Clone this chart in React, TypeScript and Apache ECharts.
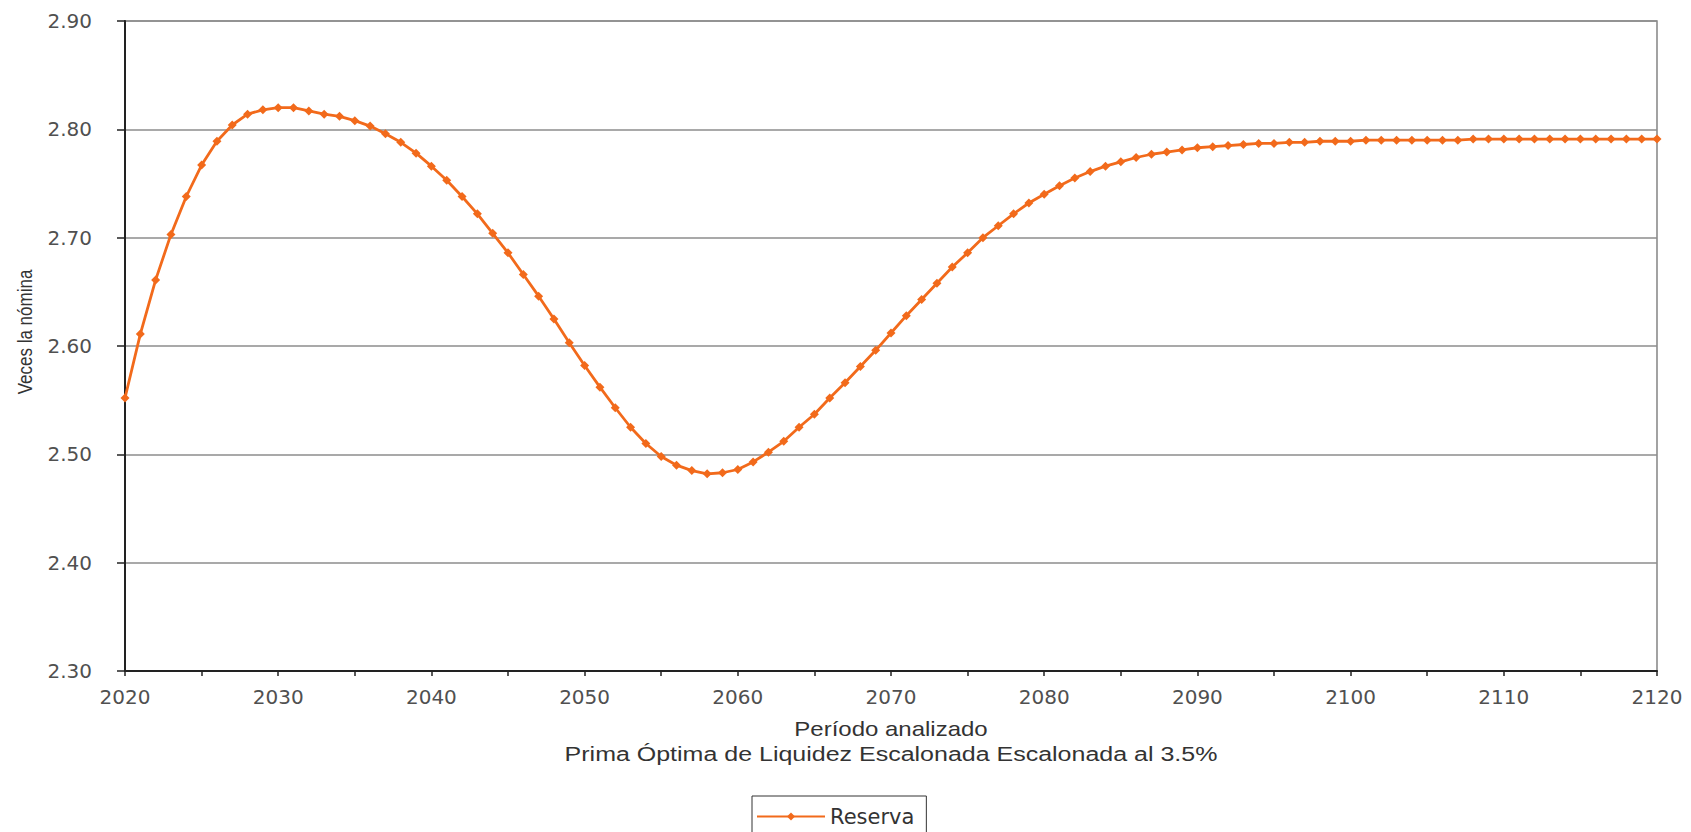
import React, { useEffect, useRef } from "react";
import * as echarts from "echarts";

const FIRST_YEAR = 2020;
const reserva: number[] = [
  2.552, 2.611, 2.661, 2.703, 2.738, 2.767, 2.789, 2.804, 2.814, 2.818,
  2.820, 2.820, 2.817, 2.814, 2.812, 2.808, 2.803, 2.796, 2.788, 2.778,
  2.766, 2.753, 2.738, 2.722, 2.704, 2.686, 2.666, 2.646, 2.625, 2.603,
  2.582, 2.562, 2.543, 2.525, 2.510, 2.498, 2.490, 2.485, 2.482, 2.483,
  2.486, 2.493, 2.502, 2.512, 2.525, 2.537, 2.552, 2.566, 2.581, 2.596,
  2.612, 2.628, 2.643, 2.658, 2.673, 2.686, 2.700, 2.711, 2.722, 2.732,
  2.740, 2.748, 2.755, 2.761, 2.766, 2.770, 2.774, 2.777, 2.779, 2.781,
  2.783, 2.784, 2.785, 2.786, 2.787, 2.787, 2.788, 2.788, 2.789, 2.789,
  2.789, 2.790, 2.790, 2.790, 2.790, 2.790, 2.790, 2.790, 2.791, 2.791,
  2.791, 2.791, 2.791, 2.791, 2.791, 2.791, 2.791, 2.791, 2.791, 2.791,
  2.791,
];
const years: number[] = reserva.map((_, i) => FIRST_YEAR + i);

const seriesName = "Reserva";
const yAxisTitle = "Veces la nómina";
const xAxisTitle = "Período analizado";
const subTitle = "Prima Óptima de Liquidez Escalonada Escalonada al 3.5%";

const ORANGE = "#F26A1B";
const GRID = "#8c8c8c";
const AXIS = "#222222";
const LABEL = "#505050";

export default function App() {
  const ref = useRef<HTMLDivElement>(null);
  useEffect(() => {
    if (!ref.current) return;
    const chart = echarts.init(ref.current, null, { renderer: "svg" });
    chart.setOption({
      animation: false,
      backgroundColor: "#ffffff",
      grid: {
        left: 125,
        right: 34,
        top: 21,
        bottom: 161,
        show: true,
        borderColor: GRID,
        borderWidth: 1.6,
        backgroundColor: "transparent",
      },
      xAxis: {
        type: "value",
        min: 2020,
        max: 2120,
        interval: 10,
        axisLine: { show: true, lineStyle: { color: AXIS, width: 2 } },
        axisTick: { show: true, length: 5, lineStyle: { color: AXIS, width: 1.5 } },
        minorTick: { show: true, splitNumber: 2, length: 5, lineStyle: { color: AXIS, width: 1.5 } },
        splitLine: { show: false },
        axisLabel: {
          margin: 16,
          color: LABEL,
          fontFamily: "DejaVu Sans",
          fontSize: 20,
          formatter: (v: number) => String(v),
        },
      },
      yAxis: {
        type: "value",
        min: 2.3,
        max: 2.9,
        interval: 0.1,
        axisLine: { show: true, lineStyle: { color: AXIS, width: 2 } },
        axisTick: { show: true, length: 8, lineStyle: { color: AXIS, width: 1.5 } },
        splitLine: { show: true, lineStyle: { color: GRID, width: 1.6 } },
        axisLabel: {
          margin: 33,
          color: LABEL,
          fontFamily: "DejaVu Sans",
          fontSize: 20,
          formatter: (v: number) => v.toFixed(2),
        },
      },
      legend: {
        show: true,
        left: 752,
        top: 796,
        orient: "horizontal",
        padding: [10, 12, 30, 4],
        borderColor: "#333333",
        borderWidth: 1,
        itemWidth: 68,
        itemHeight: 10,
        textStyle: { fontFamily: "DejaVu Sans", fontSize: 21, color: "#333333" },
        data: [seriesName],
      },
      graphic: [
        {
          type: "text",
          x: 25,
          y: 332,
          rotation: Math.PI / 2,
          scaleY: 1.2,
          style: {
            text: yAxisTitle,
            fontFamily: "Liberation Sans",
            fontSize: 17,
            fill: "#333333",
            align: "center",
            verticalAlign: "middle",
          },
        },
        {
          type: "text",
          x: 891,
          y: 729,
          scaleX: 1.2,
          style: {
            text: xAxisTitle,
            fontFamily: "Liberation Sans",
            fontSize: 20,
            fill: "#333333",
            align: "center",
            verticalAlign: "middle",
          },
        },
        {
          type: "text",
          x: 891,
          y: 754,
          scaleX: 1.25,
          style: {
            text: subTitle,
            fontFamily: "Liberation Sans",
            fontSize: 20,
            fill: "#333333",
            align: "center",
            verticalAlign: "middle",
          },
        },
      ],
      series: [
        {
          name: seriesName,
          type: "line",
          data: years.map((y, i) => [y, reserva[i]]),
          symbol: "diamond",
          symbolSize: 9,
          showSymbol: true,
          lineStyle: { color: ORANGE, width: 2.8 },
          itemStyle: { color: ORANGE },
          clip: false,
        },
      ],
    });
    return () => chart.dispose();
  }, []);
  return (
    <div
      ref={ref}
      style={{ position: "absolute", left: 0, top: 0, width: 1691, height: 832 }}
    />
  );
}
